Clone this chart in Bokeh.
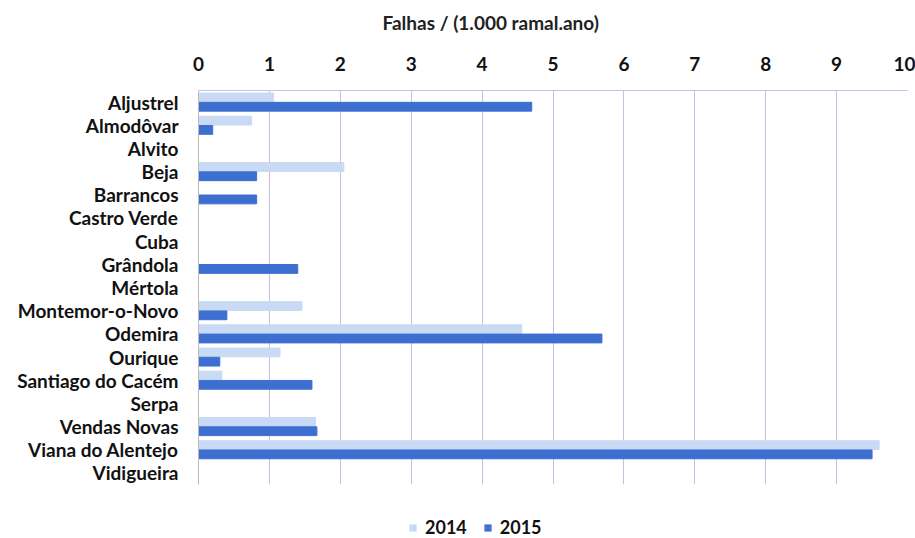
from bokeh.plotting import figure
from bokeh.layouts import column
from bokeh.models import Range1d, FactorRange, Legend, LegendItem, SingleIntervalTicker, ColumnDataSource
from bokeh.transform import dodge
from bokeh.embed import file_html
from bokeh.resources import INLINE

categories = ["Aljustrel", "Almodôvar", "Alvito", "Beja", "Barrancos", "Castro Verde",
              "Cuba", "Grândola", "Mértola", "Montemor-o-Novo", "Odemira", "Ourique",
              "Santiago do Cacém", "Serpa", "Vendas Novas", "Viana do Alentejo", "Vidigueira"]
v2014 = [1.06, 0.75, 0, 2.05, 0, 0, 0, 0, 0, 1.46, 4.56, 1.15, 0.33, 0, 1.65, 9.6, 0]
v2015 = [4.70, 0.20, 0, 0.82, 0.82, 0, 0, 1.40, 0, 0.40, 5.69, 0.30, 1.60, 0, 1.67, 9.5, 0]
series = ["2014", "2015"]
x_ticks = list(range(0, 11))
title_text = "Falhas / (1.000 ramal.ano)"

FONT = "Lato"
C2014 = "#C9DAF5"
C2015 = "#3D6FD1"
GRID = "#C9BEE8"

src = ColumnDataSource(dict(cat=categories, a=v2014, b=v2015))

p = figure(width=915, height=498, output_backend="svg", toolbar_location=None,
           x_range=Range1d(x_ticks[0], x_ticks[-1]), y_range=FactorRange(*list(reversed(categories))),
           x_axis_location="above", title=title_text,
           min_border_left=198, min_border_right=8, min_border_top=0, min_border_bottom=14)

r1 = p.hbar(y=dodge("cat", 0.2, range=p.y_range), right="a", left=0, height=0.38,
            source=src, color=C2014)
r2 = p.hbar(y=dodge("cat", -0.2, range=p.y_range), right="b", left=0, height=0.38,
            source=src, color=C2015)

p.title.text_font = FONT
p.title.text_font_size = "19px"
p.title.text_font_style = "bold"
p.title.text_color = "#222222"
p.title.align = "left"
p.title.offset = 184
p.title.standoff = 17

xa = p.xaxis[0]
xa.ticker = SingleIntervalTicker(interval=1)
xa.major_label_text_font = FONT
xa.major_label_text_font_size = "19px"
xa.major_label_text_font_style = "bold"
xa.major_label_text_color = "#111111"
xa.major_tick_line_color = None
xa.minor_tick_line_color = None
xa.axis_line_color = GRID
xa.major_label_standoff = 14
xa.axis_label = " "
xa.axis_label_text_font_size = "1px"
xa.axis_label_standoff = 7

ya = p.yaxis[0]
ya.major_label_text_font = FONT
ya.major_label_text_font_size = "19px"
ya.major_label_text_font_style = "bold"
ya.major_label_text_color = "#111111"
ya.major_tick_line_color = None
ya.axis_line_color = "#BBBBBB"
ya.major_label_standoff = 14

p.xgrid.grid_line_color = GRID
p.ygrid.grid_line_color = None
p.outline_line_color = None

# legend strip below the chart
q = figure(width=915, height=40, output_backend="svg", toolbar_location=None,
           x_range=Range1d(0, 1), y_range=Range1d(0, 1),
           min_border_left=0, min_border_right=0, min_border_top=0, min_border_bottom=0)
q.axis.visible = False
q.grid.visible = False
q.outline_line_color = None
swatch = ColumnDataSource(dict(y=[0.5], right=[0]))
d1 = q.hbar(y="y", right="right", left=0, height=0, source=swatch, fill_color=C2014, line_color=None)
d2 = q.hbar(y="y", right="right", left=0, height=0, source=swatch, fill_color=C2015, line_color=None)

legend = Legend(items=[LegendItem(label=series[0], renderers=[d1]),
                       LegendItem(label=series[1], renderers=[d2])],
                orientation="horizontal", location=(210, 0),
                label_text_font=FONT, label_text_font_size="18px", label_text_font_style="bold",
                label_text_color="#111111", glyph_width=9, glyph_height=9,
                label_standoff=8, spacing=16, padding=0, margin=0,
                border_line_color=None, background_fill_alpha=0)
q.add_layout(legend, "center")

layout = column(p, q, spacing=0)
open("out.html", "w").write(file_html(layout, INLINE))
